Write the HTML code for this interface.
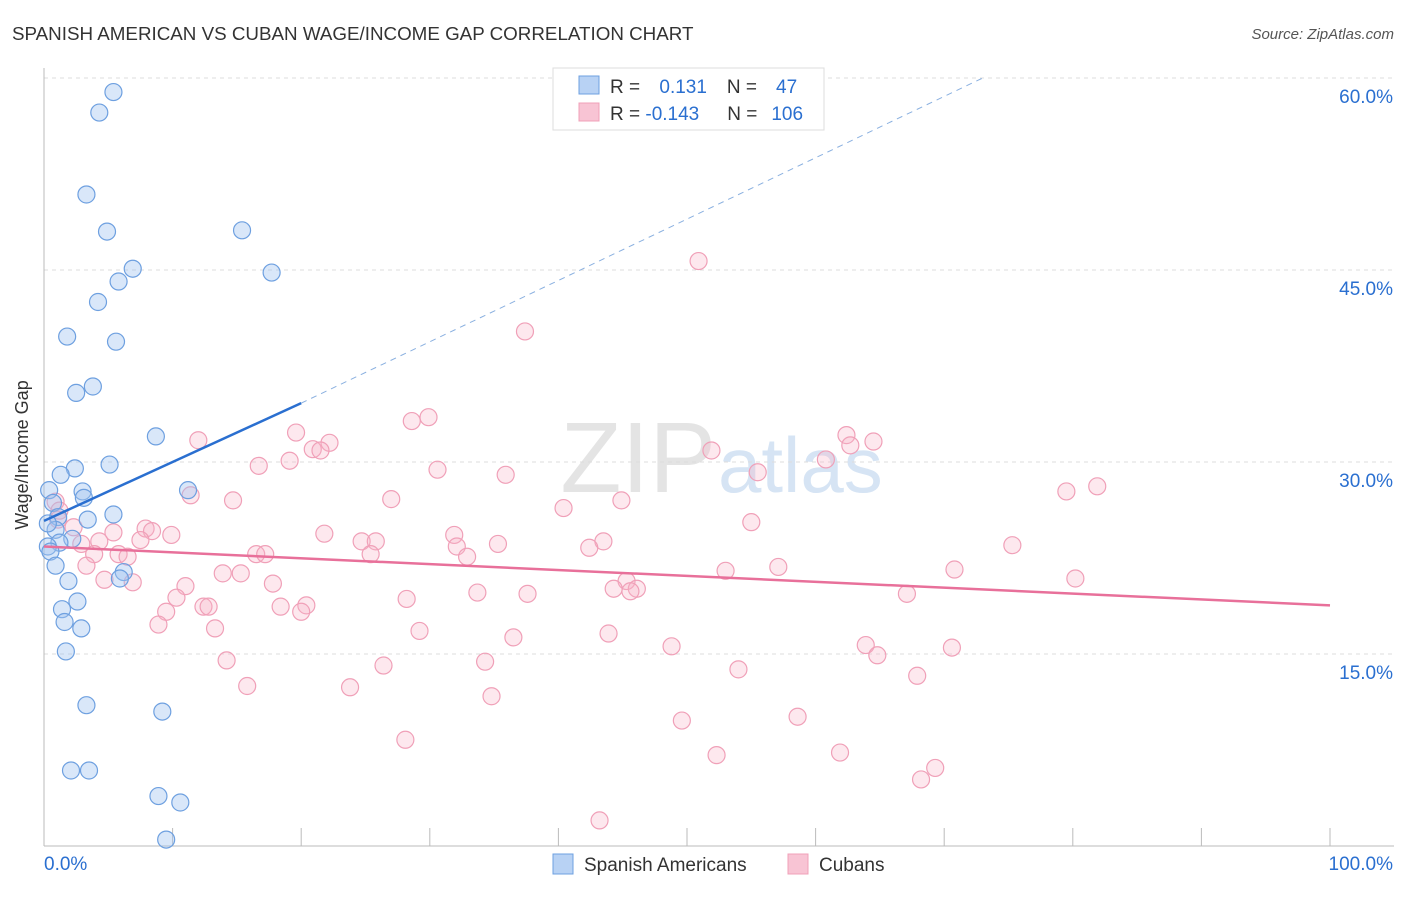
<!DOCTYPE html>
<html><head><meta charset="utf-8"><style>
body{margin:0;background:#fff;font-family:"Liberation Sans",sans-serif;}
svg text{font-family:"Liberation Sans",sans-serif;}
</style></head><body>
<svg id="c" width="1406" height="892" xmlns="http://www.w3.org/2000/svg">
<text x="12" y="40" font-size="18.8" fill="#333">SPANISH AMERICAN VS CUBAN WAGE/INCOME GAP CORRELATION CHART</text>
<text x="1394" y="39" font-size="15" fill="#555" font-style="italic" text-anchor="end">Source: ZipAtlas.com</text>
<text x="716" y="492" font-size="100" fill="#e4e4e4" text-anchor="end" font-family="Liberation Serif">ZIP</text>
<text x="718" y="492" font-size="78" fill="#d6e4f4">atlas</text>
<g id="grid"></g><g id="axes"></g><g id="pts"></g><g id="trend"></g>
<text x="28" y="455" font-size="18" fill="#333" text-anchor="middle" transform="rotate(-90 28 455)">Wage/Income Gap</text>
<g>
<rect x="553" y="68" width="271" height="62" fill="#fff" stroke="#ddd"/>
<rect x="579" y="76" width="20" height="18" fill="#b8d2f4" stroke="#6ea0e0"/>
<rect x="579" y="103" width="20" height="18" fill="#f8c4d4" stroke="#f0a0b8"/>
<text x="610" y="93" font-size="19" fill="#333">R = <tspan fill="#2a6fd0" dx="14">0.131</tspan><tspan dx="20" fill="#333">N =</tspan><tspan dx="19" fill="#2a6fd0">47</tspan></text>
<text x="610" y="120" font-size="19" fill="#333">R = <tspan fill="#2a6fd0">-0.143</tspan><tspan dx="28" fill="#333">N =</tspan><tspan dx="14" fill="#2a6fd0">106</tspan></text>
</g>
<g>
<rect x="553" y="854" width="20" height="20" fill="#b8d2f4" stroke="#6ea0e0"/>
<text x="584" y="871" font-size="19" fill="#333">Spanish Americans</text>
<rect x="788" y="854" width="20" height="20" fill="#f8c4d4" stroke="#f0a0b8"/>
<text x="819" y="871" font-size="19" fill="#333">Cubans</text>
</g>
</svg>
<script>
const yTicks=[15,30,45,60];
const yTickLabels=["15.0%","30.0%","45.0%","60.0%"];
const xTickLabels=["0.0%","100.0%"];
const blueX=[5.4,4.3,3.3,4.9,15.4,6.9,17.7,5.8,4.2,1.8,5.6,3.8,2.5,8.7,5.1,2.4,1.3,0.4,3.0,11.2,3.1,0.7,5.4,1.1,3.4,0.9,2.2,1.2,0.3,0.5,0.9,6.2,5.9,1.9,2.6,1.4,1.6,2.9,1.7,3.3,9.2,2.1,3.5,8.9,10.6,9.5,0.3];
const blueY=[58.9,57.3,50.9,48.0,48.1,45.1,44.8,44.1,42.5,39.8,39.4,35.9,35.4,32.0,29.8,29.5,29.0,27.8,27.7,27.8,27.2,26.8,25.9,25.7,25.5,24.7,24.0,23.7,23.4,23.0,21.9,21.4,20.9,20.7,19.1,18.5,17.5,17.0,15.2,11.0,10.5,5.9,5.9,3.9,3.4,0.5,25.2];
const pinkX=[50.9,37.4,29.9,28.6,19.6,12,22.2,20.9,21.5,62.4,64.5,62.7,51.9,60.8,19.1,16.7,30.6,55.5,35.9,81.9,79.5,11.4,27,14.7,44.9,40.4,0.9,1.2,1.1,55,2.3,7.9,8.4,5.4,21.8,9.9,31.9,7.5,4.3,24.7,25.8,43.5,2.9,35.3,32.1,75.3,42.4,25.4,3.9,16.5,17.2,5.8,6.5,32.9,3.3,57.1,15.3,13.9,53,70.8,4.7,6.9,45.3,80.2,17.8,11,44.3,46.1,45.6,33.7,37.6,67.1,10.3,28.2,12.4,12.8,20.4,18.4,20,9.5,8.9,13.3,29.2,36.5,43.9,48.8,63.9,64.8,70.6,14.2,26.4,34.3,54,67.9,15.8,23.8,34.8,49.6,58.6,28.1,52.3,61.9,69.3,68.2,43.2];
const pinkY=[45.7,40.2,33.5,33.2,32.3,31.7,31.5,31.0,30.9,32.1,31.6,31.3,30.9,30.2,30.1,29.7,29.4,29.2,29.0,28.1,27.7,27.4,27.1,27.0,27.0,26.4,26.9,26.2,25.5,25.3,24.9,24.8,24.6,24.5,24.4,24.3,24.3,23.9,23.8,23.8,23.8,23.8,23.6,23.6,23.4,23.5,23.3,22.8,22.8,22.8,22.8,22.8,22.6,22.6,21.9,21.8,21.3,21.3,21.5,21.6,20.8,20.6,20.7,20.9,20.5,20.3,20.1,20.1,19.9,19.8,19.7,19.7,19.4,19.3,18.7,18.7,18.8,18.7,18.3,18.3,17.3,17,16.8,16.3,16.6,15.6,15.7,14.9,15.5,14.5,14.1,14.4,13.8,13.3,12.5,12.4,11.7,9.8,10.1,8.3,7.1,7.3,6.1,5.2,2.0];
const blueTrendX=[0,20,73];
const blueTrendY=[25.4,34.6,60];
const pinkTrendX=[0,100];
const pinkTrendY=[23.4,18.8];
const NS='http://www.w3.org/2000/svg';
const sx=v=>44+v*12.86, sy=v=>846-v*12.8;
function mk(p,t,a){const e=document.createElementNS(NS,t);for(const k in a)e.setAttribute(k,a[k]);document.getElementById(p).appendChild(e);return e;}
yTicks.forEach((t,i)=>{
 let g=mk('grid','line',{x1:44,x2:1394,y1:sy(t),y2:sy(t),stroke:'#ddd','stroke-dasharray':'4,4'});
 
 
 let l=mk('grid','text',{x:1393,y:sy(t)+25,'font-size':19,fill:'#2a6fd0','text-anchor':'end'});
 l.textContent=yTickLabels[i];
 
 
});
let ax=mk('axes','line',{x1:44,x2:44,y1:68,y2:846,stroke:'#bbb'});


let bx=mk('axes','line',{x1:44,x2:1394,y1:846,y2:846,stroke:'#bbb'});


for(let i=1;i<=10;i++){let t=mk('axes','line',{x1:sx(i*10),x2:sx(i*10),y1:828,y2:846,stroke:'#bbb'});}
let x0=mk('axes','text',{x:44,y:870,'font-size':19,fill:'#2a6fd0'});x0.textContent=xTickLabels[0];


let x1=mk('axes','text',{x:1393,y:870,'font-size':19,fill:'#2a6fd0','text-anchor':'end'});x1.textContent=xTickLabels[1];


pinkX.forEach((v,i)=>{let c=mk('pts','circle',{cx:sx(v),cy:sy(pinkY[i]),r:8.5,fill:'rgba(248,180,200,0.3)',stroke:'#f0a0b8','stroke-width':1.2});
 
 });
blueX.forEach((v,i)=>{let c=mk('pts','circle',{cx:sx(v),cy:sy(blueY[i]),r:8.5,fill:'rgba(160,196,240,0.4)',stroke:'#6ea0e0','stroke-width':1.2});
 
 });
let b1=mk('trend','line',{x1:sx(blueTrendX[0]),y1:sy(blueTrendY[0]),x2:sx(blueTrendX[1]),y2:sy(blueTrendY[1]),stroke:'#2a6fd0','stroke-width':2.5});


let b2=mk('trend','line',{x1:sx(blueTrendX[1]),y1:sy(blueTrendY[1]),x2:sx(blueTrendX[2]),y2:sy(blueTrendY[2]),stroke:'#8ab0e0','stroke-width':1,'stroke-dasharray':'6,5'});


let p1=mk('trend','line',{x1:sx(pinkTrendX[0]),y1:sy(pinkTrendY[0]),x2:sx(pinkTrendX[1]),y2:sy(pinkTrendY[1]),stroke:'#e8709a','stroke-width':2.5});


</script>
</body></html>
